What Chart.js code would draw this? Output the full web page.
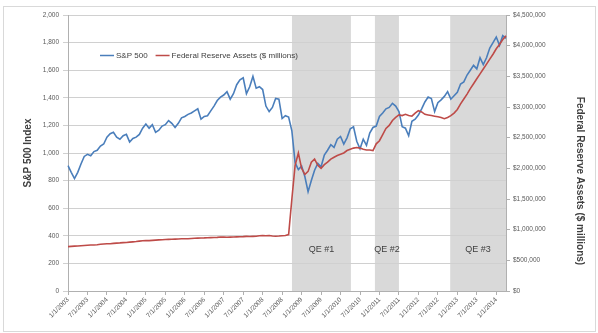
<!DOCTYPE html>
<html><head><meta charset="utf-8">
<script src="https://cdn.jsdelivr.net/npm/chart.js@4.4.1/dist/chart.umd.min.js"></script>
<style>html,body{margin:0;padding:0;background:#fff}#wrap{width:598px;height:333px;position:relative}</style>
</head><body><div id="wrap"><canvas id="c"></canvas></div>
<script>
// Categories: monthly, Jan 2003 .. Apr 2014
const startYear = 2003;
const monthCount = 136;
const dateLabels = [];
for (let i = 0; i < monthCount; i++) {
  const y = startYear + Math.floor(i / 12), m = (i % 12) + 1;
  dateLabels.push(m + '/1/' + y);
}
const labelEvery = 6;

// S&P 500 Index (left axis)
const spx = [
  909, 860, 815, 860, 920, 975, 990, 980, 1010, 1020, 1050, 1065,
  1115, 1140, 1150, 1115, 1100, 1125, 1135, 1080, 1105, 1115, 1135, 1180,
  1210, 1180, 1205, 1150, 1165, 1195, 1205, 1235, 1215, 1185, 1215, 1255,
  1265, 1280, 1290, 1305, 1320, 1245, 1265, 1270, 1305, 1340, 1380, 1405,
  1420, 1445, 1390, 1430, 1495, 1530, 1545, 1430, 1480, 1555, 1470, 1480,
  1460, 1340, 1300, 1330, 1395, 1390, 1250, 1270, 1260, 1160, 930, 880,
  905, 830, 720, 800, 875, 925, 900, 985, 1020, 1060, 1040, 1100,
  1120, 1065, 1110, 1175, 1190, 1085, 1030, 1100, 1055, 1145, 1185, 1195,
  1265, 1290, 1320, 1330, 1360, 1340, 1300, 1190, 1180, 1125, 1230, 1245,
  1275, 1320, 1370, 1405, 1395, 1300, 1365, 1385, 1410, 1445, 1390, 1415,
  1440, 1500, 1515, 1565, 1600, 1635, 1610, 1690, 1640, 1690, 1760, 1800,
  1840, 1780, 1850, 1830
];

// Federal Reserve Assets ($ millions) (right axis)
const fedAssets = [
  724000, 727000, 731000, 733000, 738000, 741000, 745000, 749000, 751000, 755000, 761000, 767000,
  771000, 770000, 776000, 781000, 784000, 789000, 792000, 797000, 801000, 806000, 813000, 819000,
  822000, 821000, 826000, 830000, 833000, 836000, 839000, 841000, 843000, 846000, 849000, 853000,
  851000, 853000, 857000, 860000, 862000, 865000, 866000, 869000, 871000, 873000, 875000, 880000,
  879000, 877000, 879000, 881000, 883000, 885000, 887000, 891000, 889000, 891000, 893000, 901000,
  905000, 901000, 904000, 896000, 893000, 896000, 901000, 906000, 920000, 1500000, 2050000, 2250000,
  2000000, 1900000, 1950000, 2100000, 2150000, 2050000, 2000000, 2060000, 2100000, 2150000, 2180000, 2210000,
  2230000, 2250000, 2290000, 2310000, 2330000, 2340000, 2330000, 2310000, 2300000, 2300000, 2290000, 2400000,
  2450000, 2550000, 2650000, 2700000, 2780000, 2830000, 2870000, 2860000, 2880000, 2860000, 2850000, 2900000,
  2940000, 2920000, 2880000, 2870000, 2860000, 2850000, 2840000, 2830000, 2810000, 2830000, 2860000, 2900000,
  2960000, 3050000, 3130000, 3210000, 3300000, 3380000, 3460000, 3540000, 3620000, 3700000, 3780000, 3860000,
  3950000, 4020000, 4100000, 4160000
];

// QE periods
const qeNames = ['QE #1', 'QE #2', 'QE #3'];
const qeStarts = ['2008-10-02', '2010-11-19', '2012-10-25'];
const qeEnds = ['2010-04-07', '2011-07-01', '2014-04-01'];

const seriesNames = ['S&P 500', 'Federal Reserve Assets ($ millions)'];
const leftTitle = 'S&P 500 Index';
const rightTitle = 'Federal Reserve Assets ($ millions)';

function dateToIndex(s) {
  const [y, m, d] = s.split('-').map(Number);
  return (y - startYear) * 12 + (m - 1) + (d - 1) / 30;
}

const blue = '#4a7ebb', red = '#be4b48';
const FONT = '"Liberation Sans", Arial, sans-serif';

const deco = {
  id: 'deco',
  beforeDraw(chart) {
    const ctx = chart.ctx, a = chart.chartArea, x = chart.scales.x;
    ctx.save();
    ctx.fillStyle = '#fff';
    ctx.fillRect(0, 0, chart.width, chart.height);
    ctx.strokeStyle = '#d9d9d9';
    ctx.lineWidth = 1;
    ctx.strokeRect(3.5, 6.5, 592, 325);
    ctx.fillStyle = '#d9d9d9';
    for (let i = 0; i < qeStarts.length; i++) {
      const x0 = x.getPixelForValue(dateToIndex(qeStarts[i]));
      const x1 = Math.min(a.right, x.getPixelForValue(dateToIndex(qeEnds[i])));
      ctx.fillRect(x0, a.top, x1 - x0, a.bottom - a.top);
    }
    ctx.restore();
  },
  afterDatasetsDraw(chart) {
    const ctx = chart.ctx, a = chart.chartArea, x = chart.scales.x, y = chart.scales.y;
    ctx.save();
    // QE labels
    ctx.fillStyle = '#404040';
    ctx.font = '9px ' + FONT;
    ctx.textAlign = 'center';
    ctx.textBaseline = 'middle';
    const ly = y.getPixelForValue(300);
    for (let i = 0; i < qeNames.length; i++) {
      const x0 = x.getPixelForValue(dateToIndex(qeStarts[i]));
      const x1 = Math.min(a.right, x.getPixelForValue(dateToIndex(qeEnds[i])));
      ctx.fillText(qeNames[i], (x0 + x1) / 2, ly);
    }
    // Legend
    ctx.font = '8px ' + FONT;
    ctx.textAlign = 'left';
    const gy = Math.round(y.getPixelForValue(1710)) + 0.5;
    let gx = a.left + 32;
    const cols = [blue, red];
    for (let i = 0; i < seriesNames.length; i++) {
      ctx.strokeStyle = cols[i];
      ctx.lineWidth = 1.5;
      ctx.beginPath(); ctx.moveTo(gx, gy); ctx.lineTo(gx + 14, gy); ctx.stroke();
      ctx.fillStyle = '#404040';
      ctx.fillText(seriesNames[i], gx + 16, gy);
      gx += 16 + ctx.measureText(seriesNames[i]).width + 8;
    }
    // Right axis title
    ctx.font = 'bold 10px ' + FONT;
    ctx.fillStyle = '#404040';
    ctx.textAlign = 'center';
    ctx.translate(580, 181);
    ctx.rotate(Math.PI / 2);
    ctx.fillText(rightTitle, 0, 0);
    ctx.restore();
  }
};

new Chart(document.getElementById('c'), {
  type: 'line',
  data: {
    labels: dateLabels,
    datasets: [
      { label: seriesNames[0], data: spx, yAxisID: 'y', borderColor: blue, borderWidth: 1.6,
        pointRadius: 0, tension: 0, order: 1 },
      { label: seriesNames[1], data: fedAssets, yAxisID: 'y1', borderColor: red, borderWidth: 1.6,
        pointRadius: 0, tension: 0, order: 0 }
    ]
  },
  options: {
    responsive: true,
    maintainAspectRatio: false,
    animation: false,
    events: [],
    layout: { padding: { left: 10, right: 6, top: 15, bottom: 0 } },
    plugins: { legend: { display: false }, tooltip: { enabled: false } },
    scales: {
      x: {
        type: 'category',
        offset: false,
        grid: { display: true, drawOnChartArea: false, tickLength: 4, color: '#b0b0b0' },
        border: { color: '#b0b0b0' },
        ticks: {
          autoSkip: false, minRotation: 45, maxRotation: 45, padding: 1,
          color: '#595959', font: { size: 6.5, family: FONT },
          callback(v, i) { return i % labelEvery === 0 ? dateLabels[i] : null; }
        },
        afterFit(s) { s.height = 42; }
      },
      y: {
        position: 'left', min: 0, max: 2000,
        grid: { color: '#d0d0d0', tickLength: 5 },
        border: { color: '#b0b0b0' },
        ticks: { stepSize: 200, padding: 4, color: '#595959', font: { size: 6.5, family: FONT },
          callback(v) { return v.toLocaleString('en-US'); } },
        title: { display: true, text: leftTitle, color: '#404040',
          font: { size: 10, weight: 'bold', family: FONT }, padding: { top: 12, bottom: 0 } },
        afterFit(s) { s.width = 58; }
      },
      y1: {
        position: 'right', min: 0, max: 4500000,
        grid: { drawOnChartArea: false, tickLength: 4, color: '#b0b0b0' },
        border: { color: '#b0b0b0' },
        ticks: { stepSize: 500000, padding: 3, color: '#595959', font: { size: 6.5, family: FONT },
          callback(v) { return '$' + v.toLocaleString('en-US'); } },
        afterFit(s) { s.width = 86; }
      }
    }
  },
  plugins: [deco]
});
</script>
</body></html>
